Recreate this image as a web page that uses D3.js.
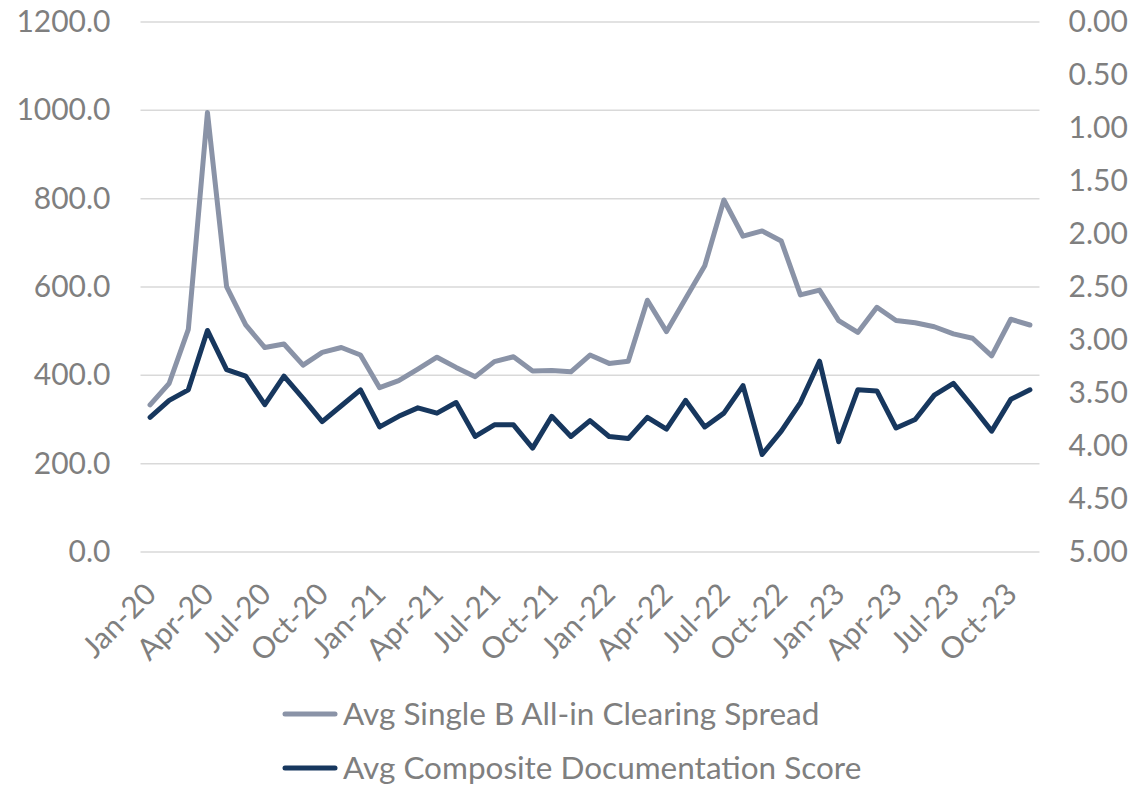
<!DOCTYPE html>
<html>
  <head>
    <meta charset="utf-8">
    <title>Spread vs documentation score</title>
    <script src="https://d3js.org/d3.v7.min.js"></script>
    <style>
      body { margin: 0; background: #fff; }
      text { font-family: Lato, "Open Sans", sans-serif; fill: #7f7f7f; }
    </style>
  </head>
  <body>
    <svg id="chart" width="1135" height="787"></svg>
    <script>
      // monthly categories Jan-20 .. Nov-23
      var months = ["Jan-20","Feb-20","Mar-20","Apr-20","May-20","Jun-20","Jul-20","Aug-20","Sep-20","Oct-20","Nov-20","Dec-20",
        "Jan-21","Feb-21","Mar-21","Apr-21","May-21","Jun-21","Jul-21","Aug-21","Sep-21","Oct-21","Nov-21","Dec-21",
        "Jan-22","Feb-22","Mar-22","Apr-22","May-22","Jun-22","Jul-22","Aug-22","Sep-22","Oct-22","Nov-22","Dec-22",
        "Jan-23","Feb-23","Mar-23","Apr-23","May-23","Jun-23","Jul-23","Aug-23","Sep-23","Oct-23","Nov-23"];
      var spread = [333,382,504,995,601,514,463,471,423,452,463,446,
        372,388,414,441,418,397,431,442,410,411,408,446,
        427,432,570,499,574,648,797,715,727,704,582,593,
        524,497,554,524,519,510,494,484,444,527,514];
      var docScore = [3.73,3.57,3.47,2.91,3.28,3.34,3.61,3.34,3.55,3.77,3.62,3.47,
        3.82,3.72,3.64,3.69,3.59,3.91,3.80,3.80,4.02,3.72,3.91,3.76,
        3.91,3.93,3.73,3.84,3.57,3.82,3.69,3.43,4.08,3.86,3.59,3.20,
        3.96,3.47,3.48,3.83,3.75,3.52,3.41,3.63,3.86,3.56,3.47];
      var leftTicks = [0,200,400,600,800,1000,1200];
      var rightTicks = [0,0.5,1,1.5,2,2.5,3,3.5,4,4.5,5];
      var seriesNames = ["Avg Single B All-in Clearing Spread", "Avg Composite Documentation Score"];
      var colors = ["#8a93a7", "#17375e"];

      var margin = { left: 140.5, right: 95.5, top: 22, bottom: 235 };
      var width = 1135, height = 787;
      var svg = d3.select("#chart");

      var x = d3.scaleBand()
        .domain(months)
        .range([margin.left, width - margin.right]);
      var yL = d3.scaleLinear()
        .domain([0, 1200])
        .range([height - margin.bottom, margin.top]);
      var yR = d3.scaleLinear()
        .domain([0, 5])
        .range([margin.top, height - margin.bottom]);

      // gridlines
      svg.append("g")
        .selectAll("line")
        .data(leftTicks)
        .join("line")
          .attr("x1", margin.left)
          .attr("x2", width - margin.right)
          .attr("y1", function(d) { return yL(d); })
          .attr("y2", function(d) { return yL(d); })
          .attr("stroke", "#d9d9d9")
          .attr("stroke-width", 1.5);

      // left axis
      var leftAxis = d3.axisLeft(yL)
        .tickValues(leftTicks)
        .tickFormat(d3.format(".1f"))
        .tickSize(0)
        .tickPadding(30);
      svg.append("g")
        .attr("transform", "translate(" + margin.left + ",0)")
        .call(leftAxis)
        .call(function(g) { g.select(".domain").remove(); })
        .selectAll("text")
          .style("font-size", "30px")
          .attr("fill", "#7f7f7f");

      // right axis
      var rightAxis = d3.axisRight(yR)
        .tickValues(rightTicks)
        .tickFormat(d3.format(".2f"))
        .tickSize(0)
        .tickPadding(29);
      svg.append("g")
        .attr("transform", "translate(" + (width - margin.right) + ",0)")
        .call(rightAxis)
        .call(function(g) { g.select(".domain").remove(); })
        .selectAll("text")
          .style("font-size", "30px")
          .attr("fill", "#7f7f7f");

      // x axis, every third month
      var xAxis = d3.axisBottom(x)
        .tickValues(months.filter(function(d, i) { return i % 3 == 0; }))
        .tickSize(0)
        .tickPadding(0);
      svg.append("g")
        .attr("transform", "translate(0," + (height - margin.bottom) + ")")
        .call(xAxis)
        .call(function(g) { g.select(".domain").remove(); })
        .selectAll("text")
          .style("font-size", "30px")
          .attr("fill", "#7f7f7f")
          .attr("text-anchor", "end")
          .attr("dy", "0")
          .attr("transform", "translate(8,44) rotate(-45)");

      // lines
      var lineL = d3.line()
        .x(function(d, i) { return x(months[i]) + x.bandwidth() / 2; })
        .y(function(d) { return yL(d); });
      var lineR = d3.line()
        .x(function(d, i) { return x(months[i]) + x.bandwidth() / 2; })
        .y(function(d) { return yR(d); });
      svg.append("path")
        .attr("d", lineL(spread))
        .attr("fill", "none")
        .attr("stroke", colors[0])
        .attr("stroke-width", 5)
        .attr("stroke-linejoin", "round")
        .attr("stroke-linecap", "round");
      svg.append("path")
        .attr("d", lineR(docScore))
        .attr("fill", "none")
        .attr("stroke", colors[1])
        .attr("stroke-width", 5)
        .attr("stroke-linejoin", "round")
        .attr("stroke-linecap", "round");

      // legend
      var legend = svg.append("g")
        .selectAll("g")
        .data(seriesNames)
        .join("g")
          .attr("transform", function(d, i) { return "translate(285," + (714 + i * 54) + ")"; });
      legend.append("line")
        .attr("x1", 0)
        .attr("x2", 50)
        .attr("stroke", function(d, i) { return colors[i]; })
        .attr("stroke-width", 5)
        .attr("stroke-linecap", "round");
      legend.append("text")
        .attr("x", 58)
        .attr("dy", "0.35em")
        .style("font-size", "31.5px")
        .text(function(d) { return d; });
    </script>
  </body>
</html>
